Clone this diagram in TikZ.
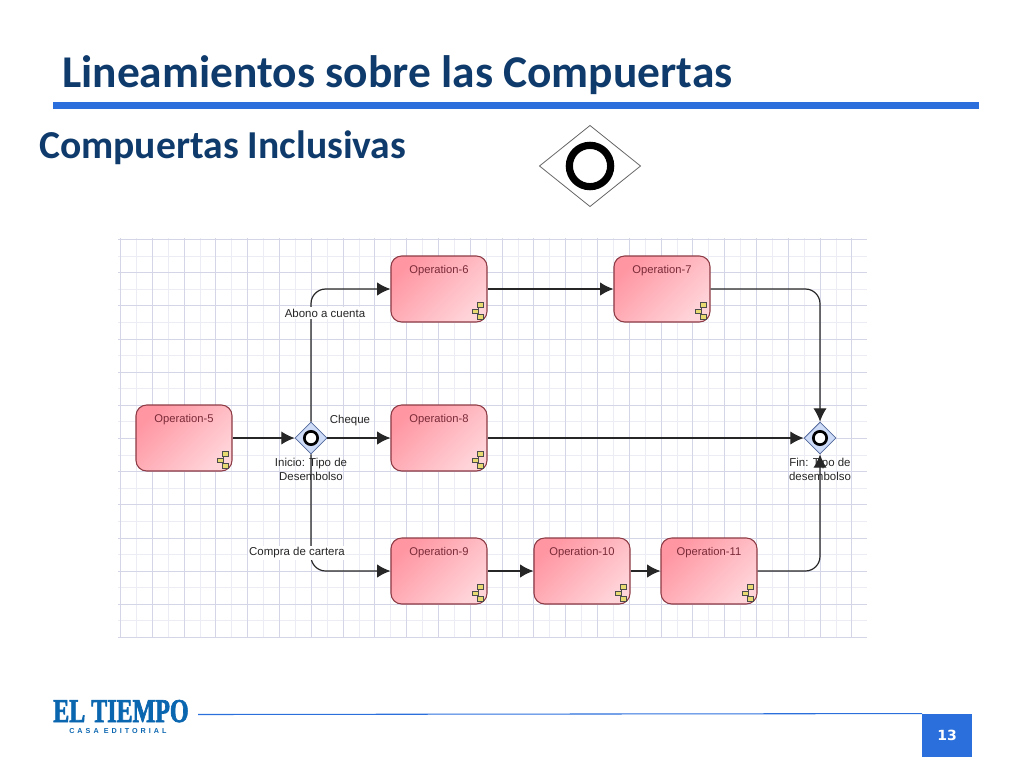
\documentclass[tikz,border=0pt]{standalone}
\usepackage{fontspec}
\setmainfont{Liberation Sans}
\newfontfamily\titlefont{Carlito}
\newfontfamily\pagefont{DejaVu Sans}
\newfontfamily\logofont[FakeStretch=0.72,FakeBold=2]{Liberation Serif}
\newfontfamily\logosubfont[LetterSpace=42]{Liberation Sans}
\usetikzlibrary{arrows.meta,shapes.geometric}
\definecolor{titleblue}{HTML}{0F3B6C}
\definecolor{barblue}{HTML}{2A6FDB}
\definecolor{logoblue}{HTML}{0B66B0}
\definecolor{gridmajor}{HTML}{D4D6E8}
\definecolor{gridminor}{HTML}{ECEDF4}
\definecolor{opborder}{HTML}{8C3A44}
\definecolor{optext}{HTML}{7A2A38}
\definecolor{opdark}{HTML}{FF96A2}
\definecolor{oplight}{HTML}{FFD4D9}
\definecolor{gatefill}{HTML}{CFDCF8}
\definecolor{gateborder}{HTML}{51689A}
\definecolor{iconfill}{HTML}{E6DA70}
\tikzset{
  opbox/.style={draw=opborder,thick,rounded corners=8,top color=opdark,bottom color=oplight,shading angle=45,
    minimum width=72,inner sep=0,align=center,text=optext,font=\fontsize{8.4}{10}\selectfont,
    text height=13,text depth=36.5},
  gate/.style={diamond,draw=gateborder,fill=gatefill,minimum width=24,minimum height=24,inner sep=0,line width=.6},
  ring/.style={circle,draw=black,fill=white,line width=2,minimum size=10,inner sep=0},
  flow/.style={line width=.9,draw=black!85,rounded corners=11,-{Latex[length=10,width=10]}},
  note/.style={font=\fontsize{8.6}{10.4}\selectfont,align=center,inner sep=1,text=black!85},
  iconpart/.style={draw=black!70,fill=iconfill,line width=.8},
  iconline/.style={draw=black!70,line width=.8}
}
\begin{document}
\begin{tikzpicture}[x=0.75pt,y=-0.75pt]
\useasboundingbox (0,0) rectangle (1024,768);
% title
\node[anchor=base west,inner sep=0,font=\titlefont\bfseries\fontsize{34.1}{36}\selectfont,text=titleblue] (title) at (62,87) {Lineamientos sobre las Compuertas};
\node[anchor=base west,inner sep=0,font=\titlefont\bfseries\fontsize{29.7}{32}\selectfont,text=titleblue] (subtitle) at (39,158) {Compuertas Inclusivas};
\fill[barblue] (53,102) rectangle (979,109);
% big symbol
\node[diamond,draw=black!60,line width=.6,minimum width=76,minimum height=61,aspect=1.25,inner sep=0] (bigdiamond) at (590,166) {};
\node[circle,draw=black,line width=5.4,minimum size=31,inner sep=0] (bigring) at (590,166) {};
% grid
\foreach \k in {0,...,11} {
  \pgfmathsetmacro\gridy{round(255.6+33.17*\k)}
  \draw[gridminor,line width=.5] (118,\gridy) -- (867,\gridy);
}
\foreach \k in {0,...,22} {
  \pgfmathsetmacro\gridx{round(135.9+31.8*\k)}
  \draw[gridminor,line width=.7] (\gridx,238) -- (\gridx,637);
}
\foreach \k in {0,...,12} {
  \pgfmathsetmacro\gridy{round(239+33.17*\k)}
  \draw[gridmajor,line width=.6] (118,\gridy) -- (867,\gridy);
}
\foreach \k in {0,...,23} {
  \pgfmathsetmacro\gridx{round(120+31.8*\k)}
  \draw[gridmajor,line width=.75] (\gridx,238) -- (\gridx,637);
}
% operations
\node[opbox] (op5) at (184,438) {Operation-5};
\node[opbox] (op6) at (439,289) {Operation-6};
\node[opbox] (op7) at (662,289) {Operation-7};
\node[opbox] (op8) at (439,438) {Operation-8};
\node[opbox] (op9) at (439,571) {Operation-9};
\node[opbox] (op10) at (582,571) {Operation-10};
\node[opbox] (op11) at (709,571) {Operation-11};
\foreach \opname in {op5,op6,op7,op8,op9,op10,op11} {
  \begin{scope}[shift={(\opname.south east)}]
    \draw[iconline] (-9,-18) -- (-9,-5.5);
    \draw[iconpart] (-10,-20) rectangle (-4,-15.5);
    \draw[iconpart] (-15.5,-13.5) rectangle (-9.5,-9);
    \draw[iconpart] (-10,-8) rectangle (-4,-3.5);
  \end{scope}
}
% gateways
\node[gate] (start) at (311,438) {};
\node[gate] (end) at (820,438) {};
\node[ring] (startring) at (start) {};
\node[ring] (endring) at (end) {};
\draw[flow] (start.north) |- (op6.west);
\draw[flow] (start.south) |- (op9.west);
\draw[flow] (op7.east) -| (end.north);
\draw[flow] (op5.east) -- (start.west);
\draw[flow] (start.east) -- (op8.west);
\draw[flow] (op6.east) -- (op7.west);
\draw[flow] (op8.east) -- (end.west);
\draw[flow] (op9.east) -- (op10.west);
\draw[flow] (op10.east) -- (op11.west);
\draw[flow] (op11.east) -| (end.south);
% labels
\node[note,fill=white] (abono) at (325,313) {Abono a cuenta};
\node[note] (cheque) at (350,421) {Cheque};
\node[note,fill=white] (compra) at (297,553) {Compra de cartera};
\node[note] (inicio) at (311,469) {Inicio: Tipo de\\Desembolso};
\node[note] (fin) at (820,469) {Fin: Tipo de\\desembolso};
% footer
\node[anchor=base west,inner sep=0,text=logoblue,font=\logofont\bfseries\fontsize{25}{25}\selectfont] (logo) at (53,722) {EL TIEMPO};
\node[anchor=base west,inner sep=0,text=logoblue,font=\logosubfont\bfseries\fontsize{5.4}{6}\selectfont] (logosub) at (69,733) {CASA EDITORIAL};
\coordinate (linestart) at (198,714.5);
\node[fill=barblue,minimum width=37,minimum height=32.5,inner sep=0,text=white,font=\pagefont\bfseries\fontsize{10.5}{12}\selectfont] (pagenum) at (947,735.5) {13\hspace{6pt}};
\draw[barblue,line width=.8] (linestart) -- (pagenum.north west);
\end{tikzpicture}
\end{document}
